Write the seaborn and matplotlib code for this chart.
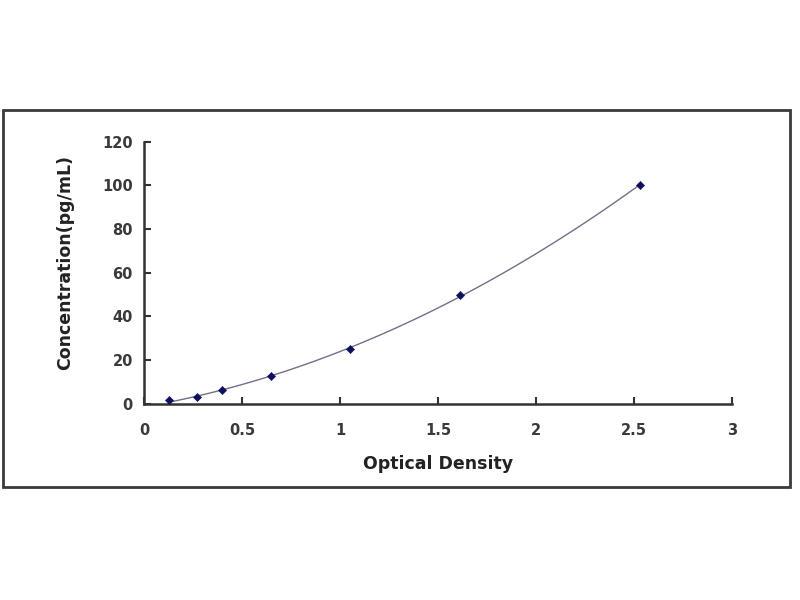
import numpy as np
import pandas as pd
import matplotlib
matplotlib.use('Agg')
import matplotlib.pyplot as plt
import seaborn as sns
from matplotlib.patches import Rectangle

sns.set_theme(style="white")
plt.rcParams['font.family'] = ['DejaVu Sans']

# Standard curve data
optical_density = [0.13, 0.27, 0.40, 0.65, 1.05, 1.61, 2.53]
concentration = [1.56, 3.12, 6.25, 12.5, 25, 50, 100]
x_ticks = [0, 0.5, 1, 1.5, 2, 2.5, 3]
x_tick_labels = ['0', '0.5', '1', '1.5', '2', '2.5', '3']
y_ticks = [0, 20, 40, 60, 80, 100, 120]

df = pd.DataFrame({'od': optical_density, 'conc': concentration})

fig = plt.figure(figsize=(8, 6), dpi=100)
fig.patch.set_facecolor('white')

# outer frame around the chart
fig.patches.append(Rectangle((0.004, 0.188), 0.984, 0.629, transform=fig.transFigure,
                             fill=False, edgecolor='#3a3a3a', linewidth=2))

ax = fig.add_axes([0.18, 0.327, 0.735, 0.437])

# fitted curve
sns.regplot(x='od', y='conc', data=df, order=2, ci=None, scatter=False, ax=ax,
            line_kws={'color': '#70708a', 'linewidth': 1.0})
# standard points
sns.scatterplot(x='od', y='conc', data=df, ax=ax, marker='D', s=18,
                color='#10105a', edgecolor='#10105a', zorder=5)

ax.set_xlim(0, 3)
ax.set_ylim(0, 120)
ax.set_xticks(x_ticks)
ax.set_xticklabels(x_tick_labels)
ax.set_yticks(y_ticks)

for side in ['top', 'right']:
    ax.spines[side].set_visible(False)
for side in ['left', 'bottom']:
    ax.spines[side].set_color('#333333')
    ax.spines[side].set_linewidth(1.8)

ax.tick_params(axis='both', direction='in', length=5, width=1.5, color='#333333',
               labelsize=10.5, labelcolor='#3a3a3a', left=True, bottom=True)
ax.tick_params(axis='x', pad=14)
ax.tick_params(axis='y', pad=8)
for lab in ax.get_xticklabels() + ax.get_yticklabels():
    lab.set_fontweight('bold')

ax.set_xlabel('Optical Density', fontsize=12.5, fontweight='bold', color='#222222', labelpad=12)
ax.set_ylabel('Concentration(pg/mL)', fontsize=12.5, fontweight='bold', color='#222222')
ax.yaxis.set_label_coords(-0.118, 0.54)
ax.grid(False)

plt.savefig('out.png', dpi=100)
